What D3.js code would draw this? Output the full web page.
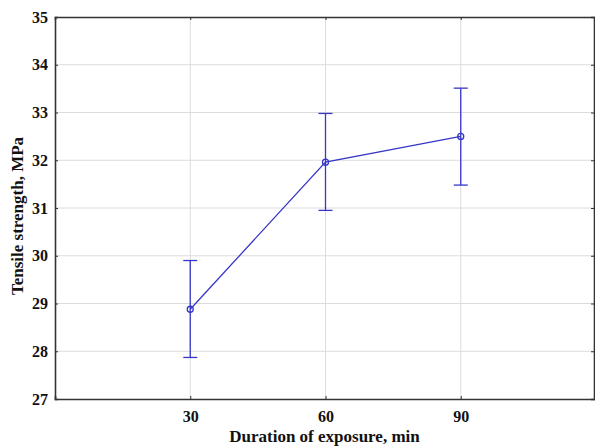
<!DOCTYPE html>
<html>
<head>
<meta charset="utf-8">
<script src="https://cdn.jsdelivr.net/npm/d3@7"></script>
<style>
  body { margin: 0; background: #fff; }
  svg text { font-family: "Liberation Serif", "Times New Roman", serif !important; font-weight: bold; }
</style>
</head>
<body>
<svg width="595" height="447"></svg>
<script>
var width = 595;
var height = 447;
var margin = { left: 55, top: 17, right: 0, bottom: 48 };

// data
var durations = [30, 60, 90];
var strength = [28.88, 31.96, 32.5];
var upper = [29.9, 32.98, 33.51];
var lower = [27.87, 30.95, 31.48];
var xTicks = [30, 60, 90];
var yTicks = [27, 28, 29, 30, 31, 32, 33, 34, 35];

var blue = "#3636c8";

var svg = d3.select("svg");

var xScale = d3.scaleLinear().domain([0, 120]).range([margin.left, width - margin.right + 1]);
var yScale = d3.scaleLinear().domain([27, 35]).range([height - margin.bottom, margin.top]);

// grid
svg.append("g").selectAll("line").data(yTicks.slice(1, -1)).enter().append("line")
  .attr("x1", margin.left).attr("x2", width)
  .attr("y1", (d) => yScale(d)).attr("y2", (d) => yScale(d))
  .attr("stroke", "#dcdcdc").attr("stroke-width", 1);
svg.append("g").selectAll("line").data(xTicks).enter().append("line")
  .attr("x1", (d) => xScale(d)).attr("x2", (d) => xScale(d))
  .attr("y1", margin.top).attr("y2", height - margin.bottom)
  .attr("stroke", "#dcdcdc").attr("stroke-width", 1);

// axes
var xAxis = d3.axisBottom(xScale).tickValues(xTicks).tickSize(-3).tickPadding(12);
var yAxis = d3.axisLeft(yScale).tickValues(yTicks).tickSize(-3).tickPadding(7);
var gx = svg.append("g")
  .attr("transform", `translate(0, ${height - margin.bottom})`)
  .call(xAxis);
var gy = svg.append("g")
  .attr("transform", `translate(${margin.left}, 0)`)
  .call(yAxis);
var gTop = svg.append("g")
  .attr("transform", `translate(0, ${margin.top})`)
  .call(d3.axisTop(xScale).tickValues(xTicks).tickSize(-3).tickFormat(""));
var gRight = svg.append("g")
  .attr("transform", `translate(${width - 1}, 0)`)
  .call(d3.axisRight(yScale).tickValues(yTicks).tickSize(-3).tickFormat(""));

[gx, gy, gTop, gRight].forEach(function (g) {
  g.attr("font-family", null).attr("font-size", null);
  g.select(".domain").attr("stroke", "#333").attr("stroke-width", 1.6);
  g.selectAll(".tick line").attr("stroke", "#333");
  g.selectAll(".tick text").style("font-size", "16px").attr("fill", "#111");
});

// axis titles
svg.append("text")
  .attr("x", (xScale(0) + xScale(120)) / 2 - 1)
  .attr("y", 442)
  .attr("text-anchor", "middle")
  .style("font-size", "17px")
  .attr("fill", "#111")
  .text("Duration of exposure, min");
svg.append("text")
  .attr("transform", `translate(23, 216) rotate(-90)`)
  .attr("text-anchor", "middle")
  .style("font-size", "17px")
  .attr("fill", "#111")
  .text("Tensile strength, MPa");

var rows = durations.map((d, i) => ({ x: d, y: strength[i], hi: upper[i], lo: lower[i] }));

// error bars
var bars = svg.append("g").selectAll("g").data(rows).enter().append("g")
  .attr("stroke", blue).attr("stroke-width", 1.3);
bars.append("line")
  .attr("x1", (d) => xScale(d.x)).attr("x2", (d) => xScale(d.x))
  .attr("y1", (d) => yScale(d.hi)).attr("y2", (d) => yScale(d.lo));
bars.append("line")
  .attr("x1", (d) => xScale(d.x) - 7).attr("x2", (d) => xScale(d.x) + 7)
  .attr("y1", (d) => yScale(d.hi)).attr("y2", (d) => yScale(d.hi));
bars.append("line")
  .attr("x1", (d) => xScale(d.x) - 7).attr("x2", (d) => xScale(d.x) + 7)
  .attr("y1", (d) => yScale(d.lo)).attr("y2", (d) => yScale(d.lo));

// line
var line = d3.line().x((d) => xScale(d.x)).y((d) => yScale(d.y));
svg.append("path")
  .datum(rows)
  .attr("d", line)
  .attr("fill", "none")
  .attr("stroke", blue)
  .attr("stroke-width", 1.3);

// markers
svg.append("g").selectAll("circle").data(rows).enter().append("circle")
  .attr("cx", (d) => xScale(d.x))
  .attr("cy", (d) => yScale(d.y))
  .attr("r", 3)
  .attr("fill", "none")
  .attr("stroke", blue)
  .attr("stroke-width", 1.3);
</script>
</body>
</html>
